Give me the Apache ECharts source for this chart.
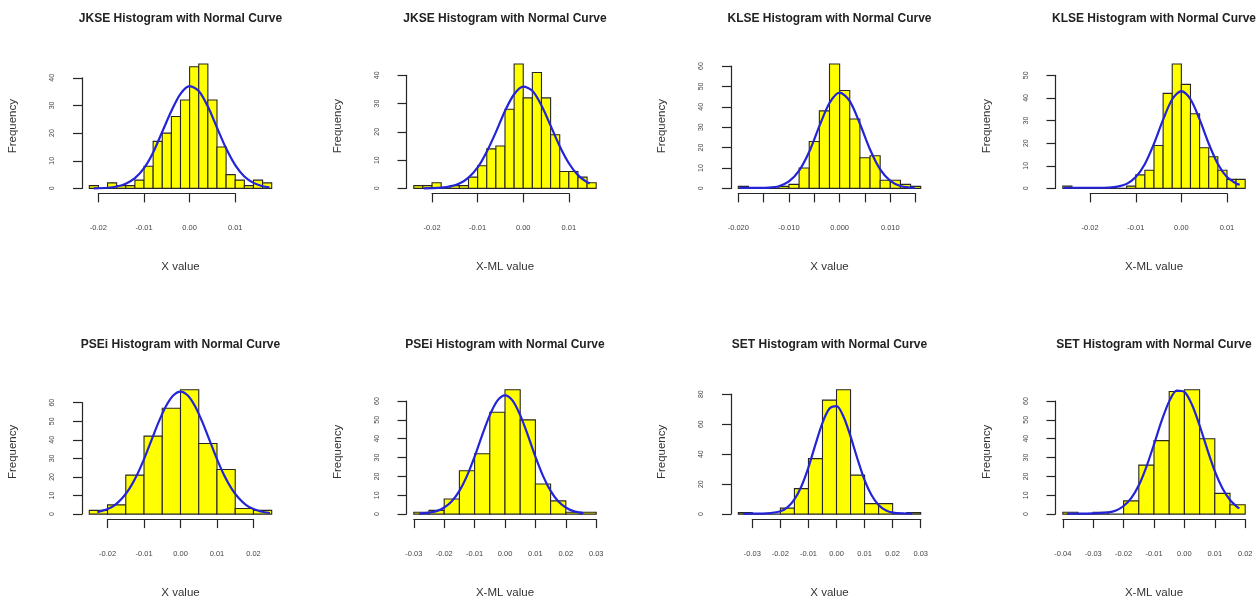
<!DOCTYPE html>
<html>
<head>
<meta charset="utf-8">
<script src="https://cdn.jsdelivr.net/npm/echarts@6/dist/echarts.min.js"></script>
<style>
  html, body { margin: 0; background: #fff; }
  #chart { width: 1256px; height: 600px; }
</style>
</head>
<body>
<div id="chart"></div>
<script>
// JKSE, X value
const jkseXBreaks = [-0.022, -0.020, -0.018, -0.016, -0.014, -0.012, -0.010, -0.008, -0.006, -0.004, -0.002,
  0.000, 0.002, 0.004, 0.006, 0.008, 0.010, 0.012, 0.014, 0.016, 0.018];
const jkseXCounts = [1, 0, 2, 1, 1, 3, 8, 17, 20, 26, 32, 44, 45, 32, 15, 5, 3, 1, 3, 2];
const jkseXCurveX = [-0.021, -0.018, -0.016, -0.014, -0.012, -0.010, -0.008, -0.006, -0.004, -0.002,
  0.000, 0.002, 0.004, 0.006, 0.008, 0.010, 0.012, 0.014, 0.016, 0.0175];
const jkseXCurveY = [0.05, 0.25, 0.7, 1.7, 3.7, 7.3, 13, 20.5, 28, 34.2, 37, 35.2, 29.6, 22, 14.5, 8.4, 4.3, 2, 0.8, 0.4];

// JKSE, X-ML value
const jkseMLBreaks = [-0.024, -0.022, -0.020, -0.018, -0.016, -0.014, -0.012, -0.010, -0.008, -0.006, -0.004,
  -0.002, 0.000, 0.002, 0.004, 0.006, 0.008, 0.010, 0.012, 0.014, 0.016];
const jkseMLCounts = [1, 1, 2, 0, 1, 1, 4, 8, 14, 15, 28, 44, 32, 41, 32, 19, 6, 6, 4, 2];
const jkseMLCurveX = [-0.0218, -0.020, -0.018, -0.016, -0.014, -0.012, -0.010, -0.008, -0.006, -0.004,
  -0.002, 0.000, 0.002, 0.004, 0.006, 0.008, 0.010, 0.012, 0.014, 0.0146];
const jkseMLCurveY = [0.05, 0.1, 0.25, 0.7, 1.7, 3.8, 7.4, 13, 19.9, 27.4, 33.3, 36, 34.5, 29.3, 22.2, 14.9, 8.9, 4.7, 2.2, 1.8];

// KLSE, X value
const klseXBreaks = [-0.020, -0.018, -0.016, -0.014, -0.012, -0.010, -0.008, -0.006, -0.004, -0.002,
  0.000, 0.002, 0.004, 0.006, 0.008, 0.010, 0.012, 0.014, 0.016];
const klseXCounts = [1, 0, 0, 0, 1, 2, 10, 23, 38, 61, 48, 34, 15, 16, 4, 4, 2, 1];
const klseXCurveX = [-0.0198, -0.018, -0.016, -0.014, -0.012, -0.010, -0.008, -0.006, -0.004, -0.002,
  0.000, 0.002, 0.004, 0.006, 0.008, 0.010, 0.012, 0.014, 0.0148];
const klseXCurveY = [0.3, 0.3, 0.3, 0.4, 1.1, 3.4, 8.7, 18, 30.5, 41.9, 47, 42.8, 31.7, 19.1, 9.3, 3.7, 1.2, 0.4, 0.3];

// KLSE, X-ML value
const klseMLBreaks = [-0.026, -0.024, -0.022, -0.020, -0.018, -0.016, -0.014, -0.012, -0.010, -0.008, -0.006,
  -0.004, -0.002, 0.000, 0.002, 0.004, 0.006, 0.008, 0.010, 0.012, 0.014];
const klseMLCounts = [1, 0, 0, 0, 0, 0, 0, 1, 6, 8, 19, 42, 55, 46, 33, 18, 14, 8, 4, 4];
const klseMLCurveX = [-0.0258, -0.022, -0.018, -0.016, -0.014, -0.012, -0.010, -0.008, -0.006, -0.004,
  -0.002, 0.000, 0.002, 0.004, 0.006, 0.008, 0.010, 0.012, 0.0128];
const klseMLCurveY = [0.3, 0.3, 0.3, 0.4, 0.8, 2, 5, 10.8, 19.8, 30.4, 39.4, 43, 39.4, 30.5, 19.8, 10.8, 5, 2.2, 1.6];

// PSEi, X value
const pseiXBreaks = [-0.025, -0.020, -0.015, -0.010, -0.005, 0.000, 0.005, 0.010, 0.015, 0.020, 0.025];
const pseiXCounts = [2, 5, 21, 42, 57, 67, 38, 24, 3, 2];
const pseiXCurveX = [-0.0228, -0.020, -0.018, -0.016, -0.014, -0.012, -0.010, -0.008, -0.006, -0.004, -0.002,
  0.000, 0.002, 0.004, 0.006, 0.008, 0.010, 0.012, 0.014, 0.016, 0.018, 0.020, 0.022, 0.0245];
const pseiXCurveY = [1, 2.7, 4.9, 8.5, 13.7, 20.8, 29.6, 39.6, 49.5, 58.1, 63.9,
  66, 63.9, 58.1, 49.5, 39.6, 29.6, 20.8, 13.7, 8.5, 4.9, 2.7, 1.4, 0.6];

// PSEi, X-ML value
const pseiMLBreaks = [-0.030, -0.025, -0.020, -0.015, -0.010, -0.005, 0.000, 0.005, 0.010, 0.015, 0.020, 0.025, 0.030];
const pseiMLCounts = [1, 2, 8, 23, 32, 54, 66, 50, 16, 7, 1, 1];
const pseiMLCurveX = [-0.0282, -0.025, -0.0225, -0.020, -0.0175, -0.015, -0.0125, -0.010, -0.0075, -0.005, -0.0025,
  0.000, 0.0025, 0.005, 0.0075, 0.010, 0.0125, 0.015, 0.0175, 0.020, 0.0225, 0.0258];
const pseiMLCurveY = [0.3, 0.8, 1.6, 3.5, 6.8, 12.3, 20.3, 30.5, 41.9, 52.5, 60.2,
  63, 60.2, 52.5, 41.9, 30.5, 20.3, 12.3, 6.8, 3.5, 1.6, 0.5];

// SET, X value
const setXBreaks = [-0.035, -0.030, -0.025, -0.020, -0.015, -0.010, -0.005, 0.000, 0.005, 0.010, 0.015, 0.020, 0.025, 0.030];
const setXCounts = [1, 0, 0, 4, 17, 37, 76, 83, 26, 7, 7, 0, 1];
const setXCurveX = [-0.0332, -0.030, -0.025, -0.020, -0.0175, -0.015, -0.0125, -0.010, -0.0075, -0.005, -0.0025,
  0.000, 0.0025, 0.005, 0.0075, 0.010, 0.0125, 0.015, 0.0175, 0.020, 0.025, 0.027];
const setXCurveY = [0.2, 0.3, 0.5, 1.9, 4.5, 9.8, 18.6, 31.2, 46.5, 60.9, 70.4,
  72, 65, 51.8, 36.6, 22.7, 12.6, 6.1, 2.6, 1, 0.4, 0.3];

// SET, X-ML value
const setMLBreaks = [-0.040, -0.035, -0.030, -0.025, -0.020, -0.015, -0.010, -0.005, 0.000, 0.005, 0.010, 0.015, 0.020];
const setMLCounts = [1, 0, 1, 0, 7, 26, 39, 65, 66, 40, 11, 5];
const setMLCurveX = [-0.0386, -0.035, -0.030, -0.025, -0.0225, -0.020, -0.0175, -0.015, -0.0125, -0.010, -0.0075,
  -0.005, -0.0025, 0.000, 0.0025, 0.005, 0.0075, 0.010, 0.0125, 0.015, 0.0175, 0.0181];
const setMLCurveY = [0.3, 0.3, 0.4, 0.9, 1.9, 4.3, 8.5, 15.3, 25.1, 37, 49.4,
  59.8, 65.5, 64.8, 58, 47, 34.5, 22.8, 13.7, 7.5, 3.6, 3.1];

// tick labels
const xTicks2 = [-0.02, -0.01, 0.00, 0.01];
const xLabels2 = ['-0.02', '-0.01', '0.00', '0.01'];
const xTicksKlse = [-0.020, -0.015, -0.010, -0.005, 0.000, 0.005, 0.010, 0.015];
const xLabelsKlse = ['-0.020', '', '-0.010', '', '0.000', '', '0.010', ''];
const xTicksPseiX = [-0.02, -0.01, 0.00, 0.01, 0.02];
const xLabelsPseiX = ['-0.02', '-0.01', '0.00', '0.01', '0.02'];
const xTicks3 = [-0.03, -0.02, -0.01, 0.00, 0.01, 0.02, 0.03];
const xLabels3 = ['-0.03', '-0.02', '-0.01', '0.00', '0.01', '0.02', '0.03'];
const xTicksSetML = [-0.04, -0.03, -0.02, -0.01, 0.00, 0.01, 0.02];
const xLabelsSetML = ['-0.04', '-0.03', '-0.02', '-0.01', '0.00', '0.01', '0.02'];
const yTicks40 = [0, 10, 20, 30, 40];
const yTicks50 = [0, 10, 20, 30, 40, 50];
const yTicks60 = [0, 10, 20, 30, 40, 50, 60];
const yTicks80 = [0, 20, 40, 60, 80];

const panels = [
  {title: 'JKSE Histogram with Normal Curve', xName: 'X value', breaks: jkseXBreaks, counts: jkseXCounts,
    cx: jkseXCurveX, cy: jkseXCurveY, xTicks: xTicks2, xLabels: xLabels2, yTicks: yTicks40},
  {title: 'JKSE Histogram with Normal Curve', xName: 'X-ML value', breaks: jkseMLBreaks, counts: jkseMLCounts,
    cx: jkseMLCurveX, cy: jkseMLCurveY, xTicks: xTicks2, xLabels: xLabels2, yTicks: yTicks40},
  {title: 'KLSE Histogram with Normal Curve', xName: 'X value', breaks: klseXBreaks, counts: klseXCounts,
    cx: klseXCurveX, cy: klseXCurveY, xTicks: xTicksKlse, xLabels: xLabelsKlse, yTicks: yTicks60},
  {title: 'KLSE Histogram with Normal Curve', xName: 'X-ML value', breaks: klseMLBreaks, counts: klseMLCounts,
    cx: klseMLCurveX, cy: klseMLCurveY, xTicks: xTicks2, xLabels: xLabels2, yTicks: yTicks50},
  {title: 'PSEi Histogram with Normal Curve', xName: 'X value', breaks: pseiXBreaks, counts: pseiXCounts,
    cx: pseiXCurveX, cy: pseiXCurveY, xTicks: xTicksPseiX, xLabels: xLabelsPseiX, yTicks: yTicks60},
  {title: 'PSEi Histogram with Normal Curve', xName: 'X-ML value', breaks: pseiMLBreaks, counts: pseiMLCounts,
    cx: pseiMLCurveX, cy: pseiMLCurveY, xTicks: xTicks3, xLabels: xLabels3, yTicks: yTicks60},
  {title: 'SET Histogram with Normal Curve', xName: 'X value', breaks: setXBreaks, counts: setXCounts,
    cx: setXCurveX, cy: setXCurveY, xTicks: xTicks3, xLabels: xLabels3, yTicks: yTicks80},
  {title: 'SET Histogram with Normal Curve', xName: 'X-ML value', breaks: setMLBreaks, counts: setMLCounts,
    cx: setMLCurveX, cy: setMLCurveY, xTicks: xTicksSetML, xLabels: xLabelsSetML, yTicks: yTicks60},
];

// layout of the 2x4 plot regions
const plotLeft = [82, 406.5, 731, 1055.5];
const plotTop = [59, 384.7];
const plotW = 197;
const plotH = 134.4;
const FONT = '"Liberation Sans", Arial, sans-serif';
const axisColor = '#262626';

const grid = [], xAxis = [], yAxis = [], series = [], graphic = [];

panels.forEach((p, i) => {
  const L = plotLeft[i % 4], T = plotTop[Math.floor(i / 4)];
  const b0 = p.breaks[0], bn = p.breaks[p.breaks.length - 1];
  const xlo = b0 - 0.04 * (bn - b0), xhi = bn + 0.04 * (bn - b0);
  const maxC = Math.max(...p.counts);
  const ylo = -0.04 * maxC, yhi = 1.04 * maxC;
  const g = i * 3;

  // plot region
  grid.push({left: L, top: T, width: plotW, height: plotH});
  xAxis.push({type: 'value', gridIndex: g, min: xlo, max: xhi, show: false});
  yAxis.push({type: 'value', gridIndex: g, min: ylo, max: yhi, show: false});

  // x axis, drawn from first to last tick
  const t0 = p.xTicks[0], tn = p.xTicks[p.xTicks.length - 1];
  const step = p.xTicks[1] - p.xTicks[0];
  grid.push({
    left: L + (t0 - xlo) / (xhi - xlo) * plotW,
    width: (tn - t0) / (xhi - xlo) * plotW,
    top: T, height: plotH
  });
  xAxis.push({
    type: 'value', gridIndex: g + 1, min: t0, max: tn, interval: step, position: 'bottom',
    axisLine: {show: true, onZero: false, lineStyle: {color: axisColor, width: 1.2}},
    axisTick: {show: true, length: 9, lineStyle: {color: axisColor, width: 1.2}},
    splitLine: {show: false},
    axisLabel: {
      margin: 31, fontSize: 7.5, color: '#444', fontFamily: FONT,
      formatter: v => p.xLabels[Math.round((v - t0) / step)] || ''
    }
  });
  yAxis.push({type: 'value', gridIndex: g + 1, min: 0, max: 1, show: false});

  // y axis, drawn from 0 to the top tick
  const yTop = p.yTicks[p.yTicks.length - 1];
  const yStep = p.yTicks[1] - p.yTicks[0];
  grid.push({
    left: L, width: 10,
    top: T + (yhi - yTop) / (yhi - ylo) * plotH,
    height: yTop / (yhi - ylo) * plotH
  });
  xAxis.push({type: 'value', gridIndex: g + 2, min: 0, max: 1, show: false});
  yAxis.push({
    type: 'value', gridIndex: g + 2, min: 0, max: yTop, interval: yStep, position: 'left',
    axisLine: {show: true, onZero: false, lineStyle: {color: axisColor, width: 1.2}},
    axisTick: {show: true, length: 9, lineStyle: {color: axisColor, width: 1.2}},
    splitLine: {show: false},
    axisLabel: {margin: 26, fontSize: 7, color: '#444', fontFamily: FONT, rotate: 90}
  });

  // histogram bars
  series.push({
    type: 'custom', xAxisIndex: g, yAxisIndex: g,
    data: p.counts.map((c, j) => [p.breaks[j], p.breaks[j + 1], c]),
    encode: {x: [0, 1], y: 2},
    renderItem: (params, api) => {
      const a = api.coord([api.value(0), api.value(2)]);
      const b = api.coord([api.value(1), 0]);
      return {
        type: 'rect',
        shape: {x: a[0], y: a[1], width: b[0] - a[0], height: b[1] - a[1]},
        style: {fill: '#ffff00', stroke: '#262626', lineWidth: 1.1}
      };
    },
    z: 2
  });

  // normal curve
  series.push({
    type: 'line', xAxisIndex: g, yAxisIndex: g,
    data: p.cx.map((x, j) => [x, p.cy[j]]),
    smooth: 0.3, showSymbol: false, symbol: 'none',
    lineStyle: {color: '#2323d8', width: 2.2},
    z: 3
  });

  const cxp = L + plotW / 2;
  graphic.push({
    type: 'text', x: cxp, y: T - 40.5,
    style: {text: p.title, fontSize: 12, fontWeight: 'bold', fontFamily: FONT, fill: '#222',
      align: 'center', verticalAlign: 'middle'}
  });
  graphic.push({
    type: 'text', x: cxp, y: T + plotH + 73.8,
    style: {text: p.xName, fontSize: 11.5, fontFamily: FONT, fill: '#333',
      align: 'center', verticalAlign: 'middle'}
  });
  graphic.push({
    type: 'text', x: L - 69, y: T + plotH / 2, rotation: Math.PI / 2,
    style: {text: 'Frequency', fontSize: 11.5, fontFamily: FONT, fill: '#333',
      align: 'center', verticalAlign: 'middle'}
  });
});

const myChart = echarts.init(document.getElementById('chart'), null, {renderer: 'canvas'});
myChart.setOption({
  animation: false,
  backgroundColor: '#fff',
  grid, xAxis, yAxis, series, graphic
});
</script>
</body>
</html>
